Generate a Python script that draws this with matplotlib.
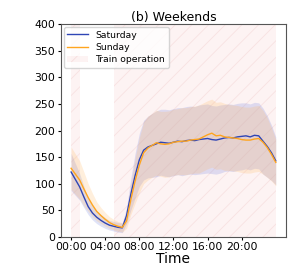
import numpy as np
import matplotlib.pyplot as plt

hours = np.arange(0, 24.5, 0.5)

saturday = [122, 108, 94, 75, 57, 45, 37, 31, 26, 22, 20, 18, 17, 40, 80, 115, 145, 163, 169, 172,
            175, 178, 177, 176, 178, 180, 179, 181, 182, 181, 183, 184, 185, 183, 182, 184, 186, 187,
            186, 188, 189, 190, 188, 191, 190, 180, 170, 158, 143]
sunday = [129, 118, 107, 90, 74, 60, 48, 40, 33, 27, 23, 20, 18, 30, 70, 105, 135, 158, 167, 172,
          177, 175, 174, 175, 178, 179, 180, 180, 182, 183, 184, 188, 192, 195, 190, 191, 188, 187,
          186, 185, 183, 182, 182, 184, 185, 178, 168, 155, 140]
saturday_std = [35, 30, 25, 20, 15, 13, 12, 11, 10, 9, 9, 9, 9, 15, 30, 42, 50, 56, 58, 60,
                62, 62, 63, 63, 63, 63, 64, 64, 64, 64, 65, 65, 65, 64, 64, 64, 63, 63,
                63, 63, 63, 62, 62, 62, 62, 62, 58, 52, 45]
sunday_std = [40, 38, 36, 32, 26, 22, 18, 15, 13, 11, 10, 9, 9, 14, 28, 42, 52, 58, 60, 60,
              61, 61, 62, 62, 62, 62, 63, 63, 63, 63, 64, 64, 64, 64, 63, 63, 63, 62,
              62, 62, 62, 62, 62, 62, 62, 60, 56, 50, 44]
train_periods = [(0, 1), (5, 24)]
tick_hours = [0, 4, 8, 12, 16, 20]
tick_labels = ["00:00", "04:00", "08:00", "12:00", "16:00", "20:00"]

sat = np.array(saturday)
sun = np.array(sunday)
sat_s = np.array(saturday_std)
sun_s = np.array(sunday_std)

plt.rcParams['hatch.linewidth'] = 0.6
fig = plt.figure(figsize=(2.97, 2.65), dpi=100)
ax = fig.add_axes([0.205, 0.106, 0.758, 0.803])

for i, (a, b) in enumerate(train_periods):
    ax.axvspan(a, b, facecolor=(0.93, 0.6, 0.6, 0.11), edgecolor=(0.9, 0.65, 0.65, 0.22),
               hatch='//', linewidth=0, label='Train operation' if i == 0 else None)

ax.fill_between(hours, sat - sat_s, sat + sat_s, color='#7080e0', alpha=0.22, linewidth=0)
ax.fill_between(hours, sun - sun_s, sun + sun_s, color='#ffb860', alpha=0.22, linewidth=0)
ax.plot(hours, sat, color='#2f45b5', lw=1.0, label='Saturday')
ax.plot(hours, sun, color='#ffa51f', lw=1.0, label='Sunday')

ax.set_ylim(0, 400)
ax.set_xticks(tick_hours)
ax.set_xticklabels(tick_labels)
ax.tick_params(labelsize=7.8, length=2.5, pad=1.5)
ax.set_title('(b) Weekends', fontsize=9, pad=2)
ax.set_xlabel('Time', fontsize=10, labelpad=0)
for s in ax.spines.values():
    s.set_color('#555555')

h, l = ax.get_legend_handles_labels()
order = [1, 2, 0]
ax.legend([h[i] for i in order], [l[i] for i in order], loc='upper left', fontsize=6.7,
          handlelength=2.2, borderaxespad=0.3, labelspacing=0.35)

fig.savefig('out.png', dpi=100)
